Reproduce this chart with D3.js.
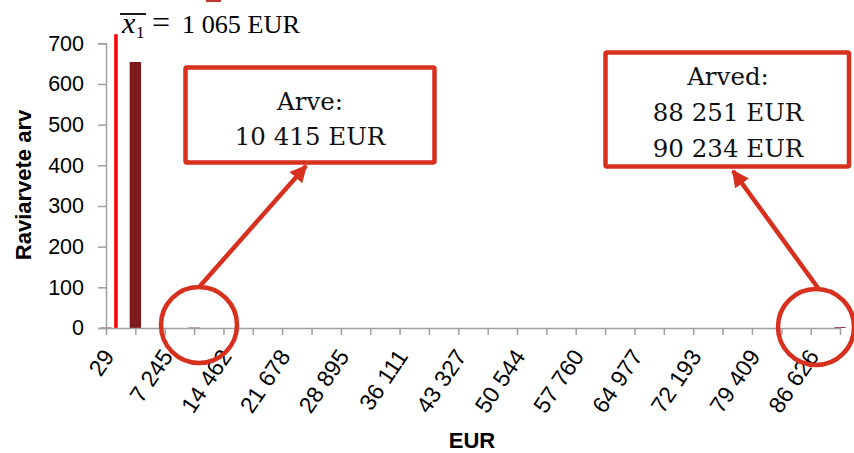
<!DOCTYPE html>
<html>
<head>
<meta charset="utf-8">
<script src="https://cdn.jsdelivr.net/npm/d3@7"></script>
<style>
  html, body { margin: 0; padding: 0; background: #fff; }
  svg { display: block; }
</style>
</head>
<body>
<svg id="chart" width="854" height="453"></svg>
<script>
// ---- data ----
const bins = [29, 3637, 7245, 10854, 14462, 18070, 21678, 25286, 28895, 32503, 36111, 39719, 43327,
              46936, 50544, 54152, 57760, 61368, 64977, 68585, 72193, 75801, 79409, 83018, 86626, 90234];
const counts = [1, 654, 0, 1, 0, 0, 0, 0, 0, 0, 0, 0, 0,
                0, 0, 0, 0, 0, 0, 0, 0, 0, 0, 0, 0, 2];
const tickLabels = ["29", "7 245", "14 462", "21 678", "28 895", "36 111", "43 327",
                    "50 544", "57 760", "64 977", "72 193", "79 409", "86 626"];
const yTicks = [0, 100, 200, 300, 400, 500, 600, 700];
const meanValue = 1065;
const meanLineTop = 722;
const meanText = "1 065 EUR";
const box1Lines = ["Arve:", "10 415 EUR"];
const box2Lines = ["Arved:", "88 251 EUR", "90 234 EUR"];

// ---- layout ----
const svg = d3.select("#chart");
const x = d3.scaleLinear().domain([bins[0], bins[bins.length - 1]]).range([106, 840]);
const y = d3.scaleLinear().domain([0, 700]).range([328, 43.3]);
const axisColor = "#a0a0a0";
const annColor = "#d7301f";

// bars
svg.append("g").selectAll("rect").data(bins.map((b, i) => ({ b, c: counts[i] })))
  .enter().append("rect")
  .attr("x", d => x(d.b) - 5.7)
  .attr("width", 11.4)
  .attr("y", d => y(d.c))
  .attr("height", d => y(0) - y(d.c))
  .attr("fill", "#7d1a1c");

// mean line
svg.append("line")
  .attr("x1", x(meanValue) + 1.5).attr("x2", x(meanValue) + 1.5)
  .attr("y1", y(0)).attr("y2", y(meanLineTop))
  .attr("stroke", "#ff0000").attr("stroke-width", 3.5);

// y axis
const yAxis = d3.axisLeft(y).tickValues(yTicks).tickSize(8).tickPadding(14).tickFormat(d3.format("d"));
const gy = svg.append("g").attr("transform", "translate(106,0)").call(yAxis);
gy.select(".domain").attr("stroke", axisColor).attr("stroke-width", 1.5);
gy.selectAll(".tick line").attr("stroke", axisColor).attr("stroke-width", 1.5);
gy.selectAll(".tick text").attr("font-family", "Liberation Sans, Arial, sans-serif")
  .attr("font-size", 21.5).attr("fill", "#000");

// x axis
const labelMap = new Map(bins.filter((b, i) => i % 2 === 0).map((b, i) => [b, tickLabels[i]]));
const xAxis = d3.axisBottom(x).tickValues(bins).tickSize(7).tickSizeOuter(0)
  .tickFormat(d => labelMap.get(d) || "");
const gx = svg.append("g").attr("transform", "translate(0,328)").call(xAxis);
gx.attr("font-size", 23);
gx.select(".domain").attr("stroke", axisColor).attr("stroke-width", 1.5);
gx.selectAll(".tick line").attr("stroke", axisColor).attr("stroke-width", 1.5);
gx.selectAll(".tick text")
  .attr("font-family", "Liberation Sans, Arial, sans-serif")
  .attr("font-size", 23).attr("fill", "#000")
  .attr("text-anchor", "end")
  .attr("x", 0).attr("y", 0).attr("dy", "0.35em")
  .attr("transform", "translate(2,24) rotate(-56)");

// axis titles
svg.append("text").attr("transform", "translate(31,185) rotate(-90)")
  .attr("text-anchor", "middle")
  .attr("font-family", "Liberation Sans, Arial, sans-serif").attr("font-weight", "bold")
  .attr("font-size", 22).text("Raviarvete arv");
svg.append("text").attr("x", 472).attr("y", 448).attr("text-anchor", "middle")
  .attr("font-family", "Liberation Sans, Arial, sans-serif").attr("font-weight", "bold")
  .attr("font-size", 22).text("EUR");

// title (mean)
const serif = "Liberation Serif, Times New Roman, serif";
svg.append("text").attr("x", 122).attr("y", 33).attr("font-family", serif)
  .attr("font-style", "italic").attr("font-size", 30).text("x");
svg.append("text").attr("x", 136).attr("y", 38).attr("font-family", serif)
  .attr("font-size", 17).text("1");
svg.append("line").attr("x1", 120).attr("x2", 146).attr("y1", 14).attr("y2", 14)
  .attr("stroke", "#000").attr("stroke-width", 1.8);
svg.append("text").attr("x", 152).attr("y", 33).attr("font-family", serif)
  .attr("font-size", 32).text("=");
svg.append("text").attr("x", 182).attr("y", 33).attr("font-family", serif)
  .attr("font-size", 26.2).text(meanText);
svg.append("line").attr("x1", 206).attr("x2", 221).attr("y1", 1).attr("y2", 1)
  .attr("stroke", "#c0392b").attr("stroke-width", 2);

// annotation boxes
const annFont = "DejaVu Serif, Georgia, serif";
function box(rx, ry, rw, rh, cx, baselines, lines) {
  svg.append("rect").attr("x", rx).attr("y", ry).attr("width", rw).attr("height", rh)
    .attr("fill", "#fff").attr("stroke", annColor).attr("stroke-width", 4.5)
    .attr("rx", 1.5);
  lines.forEach((t, i) => {
    svg.append("text").attr("x", cx).attr("y", baselines[i]).attr("text-anchor", "middle")
      .attr("font-family", annFont).attr("font-size", 24.5).attr("fill", "#111").text(t);
  });
}
box(185.5, 67.5, 249, 95, 310, [110, 145], box1Lines);
box(605.5, 52.5, 243.5, 114, 728, [84.5, 121, 157], box2Lines);

// circles
svg.append("circle").attr("cx", 199).attr("cy", 325).attr("r", 38)
  .attr("fill", "none").attr("stroke", annColor).attr("stroke-width", 4.5);
svg.append("circle").attr("cx", 816).attr("cy", 327).attr("r", 38)
  .attr("fill", "none").attr("stroke", annColor).attr("stroke-width", 4.5);

// arrows
const defs = svg.append("defs");
defs.append("marker").attr("id", "ah").attr("viewBox", "0 0 10 10")
  .attr("refX", 9).attr("refY", 5).attr("markerWidth", 3.8).attr("markerHeight", 3.8)
  .attr("markerUnits", "strokeWidth").attr("orient", "auto")
  .append("path").attr("d", "M0,0 L10,5 L0,10 Z").attr("fill", annColor);
svg.append("line").attr("x1", 200).attr("y1", 286).attr("x2", 306).attr("y2", 166)
  .attr("stroke", annColor).attr("stroke-width", 4.5).attr("marker-end", "url(#ah)");
svg.append("line").attr("x1", 818).attr("y1", 288).attr("x2", 733).attr("y2", 171)
  .attr("stroke", annColor).attr("stroke-width", 4.5).attr("marker-end", "url(#ah)");
</script>
</body>
</html>
